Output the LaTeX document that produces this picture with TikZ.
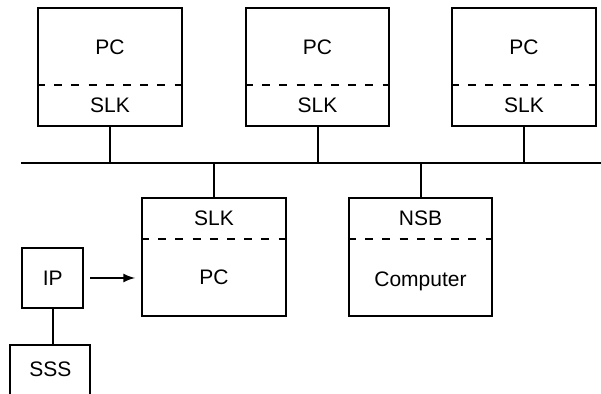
\documentclass[tikz,border=0pt]{standalone}
\usepackage{fontspec}
\setmainfont{Liberation Sans}
\usetikzlibrary{arrows}
\tikzset{
  unit/.style={draw, line width=1pt, minimum width=72pt, minimum height=59pt, inner sep=0pt},
  smallunit/.style={draw, line width=1pt, minimum width=30.5pt, minimum height=30pt, inner sep=0pt},
  divider/.style={line width=1pt, dash pattern=on 4pt off 4.6pt},
  wire/.style={line width=1pt},
  lbl/.style={inner sep=0pt, font=\fontsize{10.5}{12}\selectfont}
}
\begin{document}
\begin{tikzpicture}[x=0.5pt, y=-0.5pt]
            \useasboundingbox (0,0) rectangle (601,394);
            \clip (0,0) rectangle (601,394);
            % stations on the ring
            \node[unit] (pcA) at (110,67) {};
            \node[unit, minimum width=71.5pt] (pcB) at (317.5,67) {};
            \node[unit] (pcC) at (524,67) {};
            \draw[divider] (pcA.west |- 0,85.3) -- (pcA.east |- 0,85.3);
            \draw[divider] (pcB.west |- 0,85.3) -- (pcB.east |- 0,85.3);
            \draw[divider] (pcC.west |- 0,85.3) -- (pcC.east |- 0,85.3);
            \node[lbl] (pcAtop) at (110,47) {PC};
            \node[lbl] (pcAbot) at (110,105) {SLK};
            \node[lbl] (pcBtop) at (317.5,47) {PC};
            \node[lbl] (pcBbot) at (317.5,105) {SLK};
            \node[lbl] (pcCtop) at (524,47) {PC};
            \node[lbl] (pcCbot) at (524,105) {SLK};
            % bus
            \coordinate (busL) at (21,162.7);
            \coordinate (busR) at (601,162.7);
            \draw[wire] (busL) -- (busR);
            \draw[wire] (pcA.south) -- (pcA.south |- busL);
            \draw[wire] (pcB.south) -- (pcB.south |- busL);
            \draw[wire] (pcC.south) -- (pcC.south |- busL);
            % stations below the bus
            \node[unit] (pcD) at (214,257) {};
            \node[unit, minimum width=71.5pt] (host) at (420.5,257) {};
            \draw[divider] (pcD.west |- 0,239) -- (pcD.east |- 0,239);
            \draw[divider] (host.west |- 0,239) -- (host.east |- 0,239);
            \node[lbl] (pcDtop) at (214,218) {SLK};
            \node[lbl] (pcDbot) at (214,277) {PC};
            \node[lbl] (hosttop) at (420.5,218) {NSB};
            \node[lbl] (hostbot) at (420.5,281) {Computer};
            \draw[wire] (pcD.north) -- (pcD.north |- busL);
            \draw[wire] (host.north) -- (host.north |- busL);
            % IP and SSS
            \node[smallunit, lbl] (ip) at (52.7,278) {IP};
            \node[smallunit, minimum width=40pt, anchor=north] (sss) at (50.3,344) {};
            \node[lbl] (ssstext) at (50.3,369) {SSS};
            \draw[wire, -latex] ([xshift=3pt]ip.east) -- ([xshift=-3pt]ip.east -| pcD.west);
            \draw[wire] (ip.south) -- (ip.south |- sss.north);
        \end{tikzpicture}
\end{document}
